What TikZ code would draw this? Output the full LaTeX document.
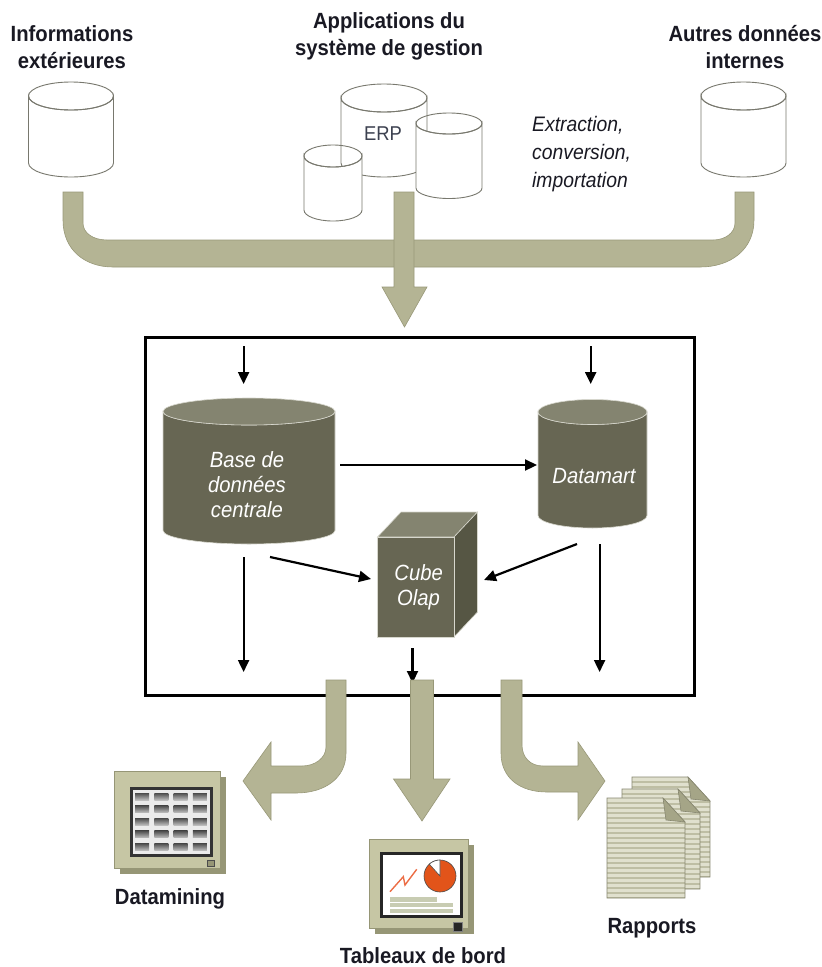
\documentclass[tikz,border=0pt]{standalone}
\usepackage{fontspec}
\setmainfont{Liberation Sans}
\newfontfamily\labfont{Liberation Sans}[FakeStretch=0.92]
\usetikzlibrary{arrows.meta}
\definecolor{flow}{RGB}{180,180,148}
\definecolor{flowedge}{RGB}{152,152,120}
\definecolor{cylline}{RGB}{120,120,110}
\definecolor{darkbody}{RGB}{103,102,83}
\definecolor{darktop}{RGB}{132,132,112}
\definecolor{darkside}{RGB}{86,86,68}
\definecolor{darkedge}{RGB}{215,215,205}
\definecolor{txt}{RGB}{25,25,35}
\definecolor{erptxt}{RGB}{60,65,80}
\definecolor{monface}{RGB}{198,198,164}
\definecolor{monshade}{RGB}{150,150,118}
\definecolor{pagefill}{RGB}{224,224,206}
\definecolor{pageline}{RGB}{190,190,164}
\definecolor{pageedge}{RGB}{135,135,112}
\definecolor{foldc}{RGB}{165,165,135}
\definecolor{piec}{RGB}{226,84,26}
\definecolor{zig}{RGB}{236,110,70}
\definecolor{barc}{RGB}{200,204,178}

% white cylinder: cx, topy, boty, rx, ry
\newcommand\whitecyl[5]{%
  \filldraw[draw=cylline, fill=white, line width=0.9pt] (#1-#4,#2) -- (#1-#4,#3)
    arc[start angle=180,end angle=0,x radius=#4,y radius=#5] -- (#1+#4,#2)
    arc[start angle=0,end angle=180,x radius=#4,y radius=#5] -- cycle;
  \draw[draw=cylline, line width=0.9pt] (#1,#2) ellipse[x radius=#4, y radius=#5];}
% dark cylinder
\newcommand\darkcyl[5]{%
  \filldraw[draw=darkedge, fill=darkbody, line width=0.6pt] (#1-#4,#2) -- (#1-#4,#3)
    arc[start angle=180,end angle=0,x radius=#4,y radius=#5] -- (#1+#4,#2)
    arc[start angle=0,end angle=180,x radius=#4,y radius=#5] -- cycle;
  \filldraw[draw=darkedge, fill=darktop, line width=0.6pt] (#1,#2) ellipse[x radius=#4, y radius=#5];}
% report page: x0, y0
\newcommand\rpage[2]{%
  \begin{scope}
    \clip (#1,#2) -- (#1+56,#2) -- (#1+78,#2+24) -- (#1+78,#2+100) -- (#1,#2+100) -- cycle;
    \fill[pagefill] (#1,#2) rectangle (#1+78,#2+100);
    \foreach \k in {1,...,20} \draw[pageline, line width=2pt] (#1,#2+\k*5) -- (#1+78,#2+\k*5);
  \end{scope}
  \draw[pageedge, line width=0.7pt] (#1,#2) -- (#1+56,#2) -- (#1+78,#2+24) -- (#1+78,#2+100) -- (#1,#2+100) -- cycle;
  \filldraw[fill=foldc, draw=pageedge, line width=0.6pt] (#1+56,#2) -- (#1+78,#2+24) -- (#1+59,#2+22) -- cycle;}

\tikzset{
  lab/.style={font=\labfont\bfseries\fontsize{22}{27}\selectfont, text=txt, align=center, inner sep=0pt},
  darklab/.style={font=\labfont\itshape\fontsize{22}{25}\selectfont, text=white, align=center, inner sep=0pt},
  flowshape/.style={fill=flow, draw=flowedge, line width=0.6pt},
  flowarr/.style={line width=2.2pt, -{Triangle[length=12pt,width=11pt]}},
}

\begin{document}
\begin{tikzpicture}[x=1pt,y=-1pt]
\useasboundingbox[fill=white] (0,0) rectangle (822,967);

% ---------- top labels ----------
\node[lab, anchor=north] (ext) at (72,25.5) {Informations\\extérieures};
\node[lab, anchor=north] (app) at (389,12.5) {Applications du\\système de gestion};
\node[lab, anchor=north] (aut) at (745,25.5) {Autres données\\internes};

% ---------- source cylinders ----------
\whitecyl{71}{96}{163}{42.5}{14}
\whitecyl{743.5}{96}{163}{42.5}{14}
\whitecyl{384}{98}{163}{43}{14}
\whitecyl{449}{123.5}{188}{33}{10.5}
\whitecyl{333}{156}{210}{29}{11}
\node[font=\labfont\fontsize{20}{24}\selectfont, text=erptxt, anchor=base, inner sep=0pt] (erp) at (383,140) {ERP};

\node[font=\labfont\itshape\fontsize{21}{28}\selectfont, text=txt, align=left, anchor=north west, inner sep=0pt] (xtr) at (532,116) {Extraction,\\conversion,\\importation};

% ---------- collecting band ----------
\filldraw[flowshape] (63,192) -- (63,220) .. controls (63,250) and (85,267) .. (113,267)
  -- (700,267) .. controls (730,267) and (754,250) .. (754,220) -- (754,192) -- (735,192)
  -- (735,223) .. controls (735,233) and (725,240) .. (713,240) -- (107,240)
  .. controls (93,240) and (83,233) .. (83,223) -- (83,192) -- cycle;
\filldraw[flowshape] (394,192) -- (394,287) -- (382,287) -- (404.5,327) -- (427,287) -- (414,287) -- (414,192) -- cycle;

% ---------- warehouse box ----------
\node[draw=black, line width=3pt, minimum width=549pt, minimum height=358pt, inner sep=0pt] (wh) at (419.5,516) {};

\darkcyl{249}{411.5}{530.5}{86}{13.5}
\darkcyl{592.5}{412}{515.5}{54.5}{12.5}
\node[darklab, anchor=north] (bdc) at (247,451) {Base de\\données\\centrale};
\node[darklab, anchor=base] (dmt) at (594,483) {Datamart};

% cube
\filldraw[draw=darkedge, fill=darktop, line width=0.6pt] (377.5,537) -- (401,512) -- (477.5,512) -- (454,537) -- cycle;
\filldraw[draw=darkedge, fill=darkside, line width=0.6pt] (454,537) -- (477.5,512) -- (477.5,612) -- (454,637) -- cycle;
\filldraw[draw=darkedge, fill=darkbody, line width=0.6pt] (377.5,537) rectangle (454,637);
\node[darklab, anchor=north] (cub) at (418.6,564) {Cube\\Olap};

% inner connectors
\coordinate (inL) at (243.6,346);  \coordinate (bdcT) at (243.6,384);
\coordinate (inR) at (590.7,346);  \coordinate (dmtT) at (590.7,384);
\coordinate (bdcE) at (340,465);   \coordinate (dmtW) at (537,465);
\coordinate (bdcSE) at (270,557);  \coordinate (cubW) at (371,579);
\coordinate (dmtSW) at (577,544);  \coordinate (cubE) at (484,580);
\coordinate (bdcB) at (243.6,557); \coordinate (outL) at (243.6,672);
\coordinate (cubB) at (412.5,648); \coordinate (outM) at (412.5,683);
\coordinate (dmtB) at (599.6,544); \coordinate (outR) at (599.6,672);
\draw[flowarr] (inL) -- (bdcT);
\draw[flowarr] (inR) -- (dmtT);
\draw[flowarr] (bdcE) -- (dmtW);
\draw[flowarr] (bdcSE) -- (cubW);
\draw[flowarr] (dmtSW) -- (cubE);
\draw[flowarr] (bdcB) -- (outL);
\draw[flowarr] (cubB) -- (outM);
\draw[flowarr] (dmtB) -- (outR);

% ---------- output arrows ----------
\filldraw[flowshape] (326,680) -- (326,747) .. controls (326,758) and (315,766) .. (302,766) -- (271,766)
  -- (271,742) -- (243,781) -- (271,820) -- (271,793) -- (296,793)
  .. controls (325,793) and (346,778) .. (346,753) -- (346,680) -- cycle;
\filldraw[flowshape] (410.5,680) -- (410.5,779) -- (393.5,779) -- (422,821) -- (450,779) -- (433.5,779) -- (433.5,680) -- cycle;
\filldraw[flowshape] (501,680) -- (501,753) .. controls (501,778) and (520,792) .. (547,792) -- (578,792)
  -- (578,820) -- (605,781) -- (578,742) -- (578,766) -- (543,766)
  .. controls (530,766) and (522,757) .. (522,745) -- (522,680) -- cycle;

% ---------- Datamining monitor ----------
\fill[monshade] (120,777) rectangle (226,874);
\filldraw[fill=monface, draw=monshade, line width=0.6pt] (114,771) rectangle (220,868);
\fill[black!80] (130,787) rectangle (213,857);
\fill[black!8] (133,790) rectangle (210,854);
\foreach \i in {0,...,3} \foreach \j in {0,...,4}
  \shade[top color=black!70, bottom color=black!25] (135+\i*19.25,793+\j*12.6) rectangle (149+\i*19.25,800+\j*12.6);
\filldraw[fill=monshade, draw=black!70, line width=0.6pt] (207,860) rectangle (214,866);
\node[lab, anchor=base] (dmn) at (170,904) {Datamining};

% ---------- Tableaux de bord monitor ----------
\fill[monshade] (375,845) rectangle (474,934);
\filldraw[fill=monface, draw=monshade, line width=0.6pt] (369,839) rectangle (468,928);
\fill[black!85] (380,852) rectangle (463,918);
\fill[white] (383,855) rectangle (460,915);
\draw[zig, line width=1.4pt] (390,891.7) -- (403.3,876.7) -- (405,885) -- (416.7,869.3);
\filldraw[fill=piec, draw=black!70, line width=0.6pt] (440,876) circle[radius=16];
\filldraw[fill=white, draw=black!70, line width=0.6pt] (440,876) -- (440,860) arc[start angle=270,end angle=228,radius=16] -- cycle;
\fill[barc] (390,897) rectangle (437,901.5);
\fill[barc] (390,903) rectangle (453,907.3);
\fill[barc] (390,908.5) rectangle (453,912.7);
\filldraw[fill=black!85, draw=black!50, line width=0.6pt] (453,922) rectangle (462,931);
\node[lab, anchor=base] (tdb) at (423,963) {Tableaux de bord};

% ---------- Rapports ----------
\rpage{632}{777}
\rpage{622}{789}
\rpage{607}{798}
\node[lab, anchor=base] (rap) at (652,933) {Rapports};
\end{tikzpicture}
\end{document}
